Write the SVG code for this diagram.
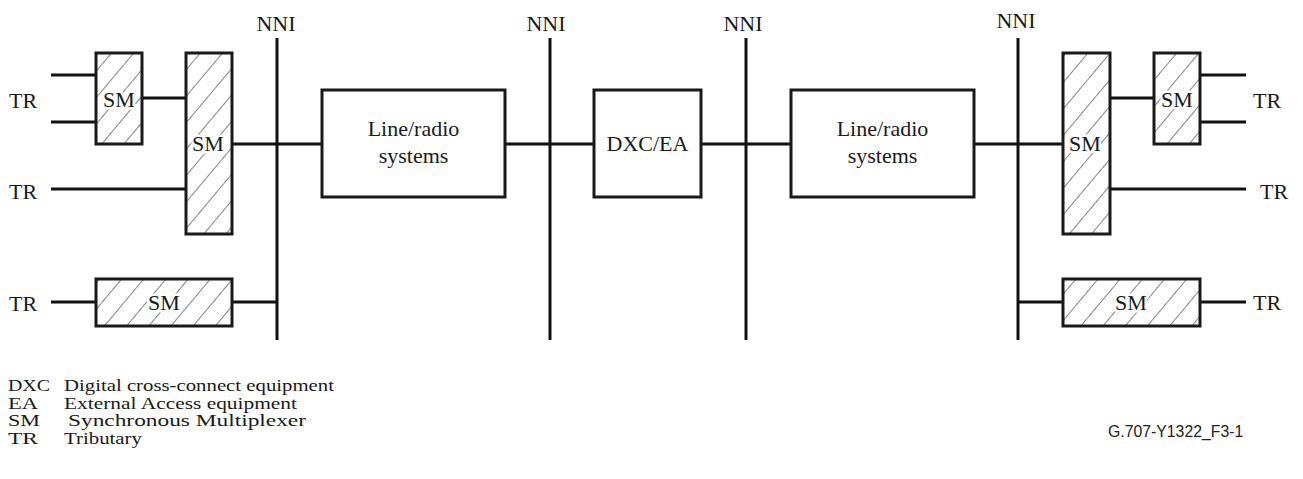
<svg xmlns="http://www.w3.org/2000/svg" width="1303" height="479" viewBox="0 0 1303 479">
<style>
.t{font-family:"Liberation Serif","Times New Roman",serif;font-size:22px;fill:#1a1a1a}
.c{text-anchor:middle}
.k{paint-order:stroke;stroke:#fff;stroke-width:5px;stroke-linejoin:round}
.lg{font-family:"Liberation Serif","Times New Roman",serif;font-size:17px;fill:#1a1a1a}
.box{fill:#fff;stroke:#1a1a1a;stroke-width:3}
.hbox{fill:url(#hatch);stroke:#1a1a1a;stroke-width:3}
.ln{stroke:#111;stroke-width:3;fill:none}
</style>
<defs>
<pattern id="hatch" patternUnits="userSpaceOnUse" width="17" height="17" patternTransform="rotate(40)">
<rect width="17" height="17" fill="#fff"/>
<line x1="0" y1="0" x2="0" y2="17" stroke="#333" stroke-width="1.2"/>
</pattern>
</defs>
<rect width="1303" height="479" fill="#fff"/>
<g id="connectors">
<line class="ln" x1="51" y1="75" x2="96" y2="75"/>
<line class="ln" x1="51" y1="122" x2="96" y2="122"/>
<line class="ln" x1="142" y1="98" x2="186" y2="98"/>
<line class="ln" x1="51" y1="189" x2="186" y2="189"/>
<line class="ln" x1="232" y1="144" x2="322" y2="144"/>
<line class="ln" x1="51" y1="302" x2="96" y2="302"/>
<line class="ln" x1="232" y1="302" x2="277" y2="302"/>
<line class="ln" x1="505" y1="144" x2="594" y2="144"/>
<line class="ln" x1="701" y1="144" x2="791" y2="144"/>
<line class="ln" x1="974" y1="144" x2="1063" y2="144"/>
<line class="ln" x1="1110" y1="98" x2="1154" y2="98"/>
<line class="ln" x1="1200" y1="75" x2="1246" y2="75"/>
<line class="ln" x1="1200" y1="122" x2="1246" y2="122"/>
<line class="ln" x1="1110" y1="189" x2="1246" y2="189"/>
<line class="ln" x1="1018" y1="302" x2="1063" y2="302"/>
<line class="ln" x1="1200" y1="302" x2="1246" y2="302"/>
</g>
<g id="nni1"><line class="ln" x1="277" y1="38" x2="277" y2="340"/><text class="t c" x="276" y="31">NNI</text></g>
<g id="nni2"><line class="ln" x1="550" y1="38" x2="550" y2="340"/><text class="t c" x="546" y="31">NNI</text></g>
<g id="nni3"><line class="ln" x1="746" y1="38" x2="746" y2="340"/><text class="t c" x="743" y="31">NNI</text></g>
<g id="nni4"><line class="ln" x1="1018" y1="38" x2="1018" y2="340"/><text class="t c" x="1016" y="28">NNI</text></g>
<g id="tr-left">
<text class="t" x="9" y="108">TR</text>
<text class="t" x="9" y="199">TR</text>
<text class="t" x="9" y="311">TR</text>
</g>
<g id="tr-right">
<text class="t" x="1253" y="108">TR</text>
<text class="t" x="1260" y="199">TR</text>
<text class="t" x="1253" y="310">TR</text>
</g>
<g id="sm-left-small"><rect class="hbox" x="96" y="53" width="46" height="91"/><text class="t c k" x="119" y="107">SM</text></g>
<g id="sm-left-big"><rect class="hbox" x="186" y="53" width="46" height="181"/><text class="t c k" x="208" y="151">SM</text></g>
<g id="sm-left-bottom"><rect class="hbox" x="96" y="279" width="136" height="47"/><text class="t c k" x="164" y="310">SM</text></g>
<g id="line-radio-1"><rect class="box" x="322" y="90" width="183" height="107"/><text class="t c" x="413.5" y="136">Line/radio</text><text class="t c" x="413.5" y="163">systems</text></g>
<g id="dxc-ea"><rect class="box" x="594" y="90" width="107" height="107"/><text class="t c" x="647.5" y="151">DXC/EA</text></g>
<g id="line-radio-2"><rect class="box" x="791" y="90" width="183" height="107"/><text class="t c" x="882.5" y="136">Line/radio</text><text class="t c" x="882.5" y="163">systems</text></g>
<g id="sm-right-big"><rect class="hbox" x="1063" y="53" width="47" height="181"/><text class="t c k" x="1085" y="151">SM</text></g>
<g id="sm-right-small"><rect class="hbox" x="1154" y="53" width="46" height="91"/><text class="t c k" x="1177" y="107">SM</text></g>
<g id="sm-right-bottom"><rect class="hbox" x="1063" y="279" width="137" height="47"/><text class="t c k" x="1131" y="310">SM</text></g>
<g id="legend">
<text class="lg" x="8" y="391" textLength="42" lengthAdjust="spacingAndGlyphs">DXC</text><text class="lg" x="64" y="391" textLength="270" lengthAdjust="spacingAndGlyphs">Digital cross-connect equipment</text>
<text class="lg" x="8" y="408.5" textLength="30" lengthAdjust="spacingAndGlyphs">EA</text><text class="lg" x="64" y="408.5" textLength="233" lengthAdjust="spacingAndGlyphs">External Access equipment</text>
<text class="lg" x="8" y="426" textLength="32" lengthAdjust="spacingAndGlyphs">SM</text><text class="lg" x="68" y="426" textLength="238" lengthAdjust="spacingAndGlyphs">Synchronous Multiplexer</text>
<text class="lg" x="8" y="443.5" textLength="30" lengthAdjust="spacingAndGlyphs">TR</text><text class="lg" x="64" y="443.5" textLength="78" lengthAdjust="spacingAndGlyphs">Tributary</text>
</g>
<text id="figid" x="1108" y="437" style="font-family:'Liberation Sans',Arial,sans-serif;font-size:15.8px;fill:#222">G.707-Y1322_F3-1</text>
</svg>
